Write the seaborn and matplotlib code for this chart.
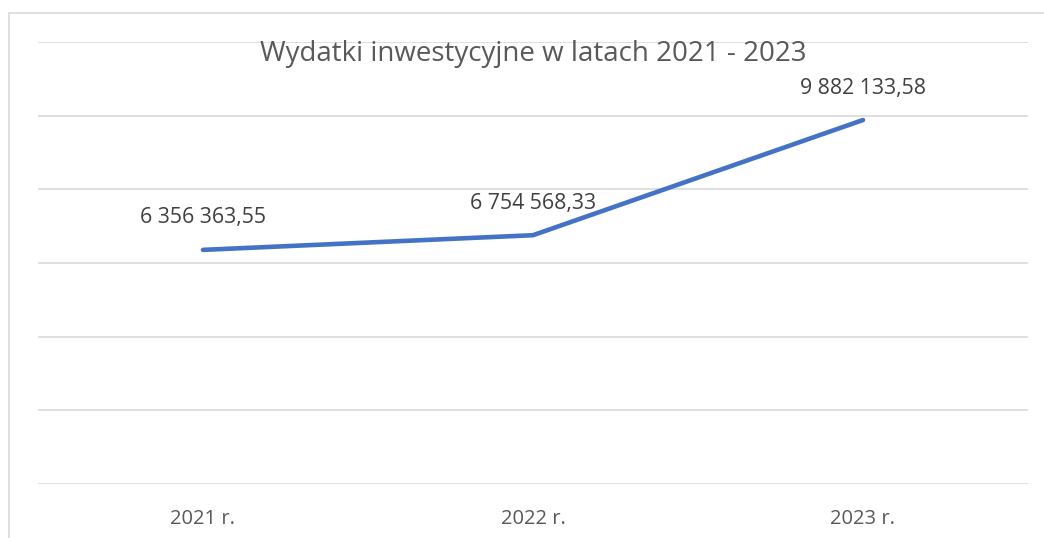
import matplotlib
matplotlib.use("Agg")
import matplotlib.pyplot as plt
import seaborn as sns
import pandas as pd
from matplotlib.patches import Rectangle

years = ["2021 r.", "2022 r.", "2023 r."]
values = [6356363.55, 6754568.33, 9882133.58]
title = "Wydatki inwestycyjne w latach 2021 - 2023"


def pl_format(v):
    s = f"{v:,.2f}"
    return s.replace(",", " ").replace(".", ",")


df = pd.DataFrame({"year": years, "value": values})

sns.set_theme(style="white")
plt.rcParams['font.family'] = ['Open Sans', 'DejaVu Sans']

fig = plt.figure(figsize=(10.44, 5.38), dpi=100)
ax = fig.add_axes([38 / 1044, 54 / 538, 990 / 1044, 442 / 538])

# outer chart frame (cropped at right and bottom)
fig.patches.append(Rectangle((8.5 / 1044, -0.05), 1.2, (538 - 12.5) / 538 + 0.05,
                             transform=fig.transFigure, fill=False,
                             edgecolor="#D9D9D9", linewidth=1.2))

x = list(range(len(years)))
sns.lineplot(x=x, y=df["value"], ax=ax, color="#4472C4", linewidth=3.3,
             solid_capstyle="round", solid_joinstyle="round")

ax.set_xlim(-0.5, len(years) - 0.5)
ax.set_ylim(0, 12_000_000)
ax.set_yticks(range(0, 12_000_001, 2_000_000))
ax.set_yticklabels([])
ax.set_xticks(x)
ax.set_xticklabels(years, fontsize=14.5, color="#595959")
ax.tick_params(axis="x", length=0, pad=18)
ax.tick_params(axis="y", length=0)
ax.grid(axis="y", color="#D9D9D9", linewidth=1.2)
ax.set_axisbelow(True)
for s in ax.spines.values():
    s.set_visible(False)
ax.set_xlabel("")
ax.set_ylabel("")

for xi, v in zip(x, values):
    ax.annotate(pl_format(v), (xi, v), xytext=(0, 23), textcoords="offset points",
                ha="center", va="center", fontsize=15.3, color="#404040")

ax.text(0.5, (538 - 54 - 54) / 442, title, transform=ax.transAxes,
        ha="center", va="center", fontsize=20, color="#595959")

fig.savefig("out.png", dpi=100)
